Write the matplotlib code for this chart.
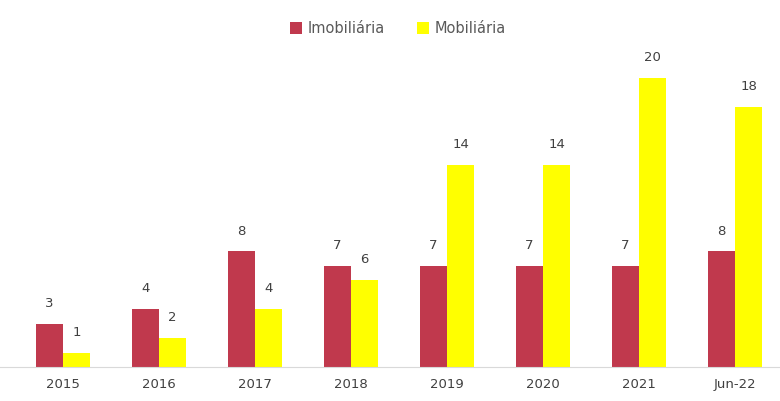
import numpy as np
import matplotlib.pyplot as plt

# data
categories = ["2015", "2016", "2017", "2018", "2019", "2020", "2021", "Jun-22"]
imobiliaria = [3, 4, 8, 7, 7, 7, 7, 8]
mobiliaria = [1, 2, 4, 6, 14, 14, 20, 18]

red = "#C0394D"
yellow = "#FFFF00"

fig = plt.figure(figsize=(7.8, 4.01), dpi=100)
ax = fig.add_axes([0, 34 / 401, 1, (367 - 40) / 401])

x = np.arange(len(categories))
w = 0.285
b1 = ax.bar(x - w / 2, imobiliaria, w, color=red, label="Imobiliária")
b2 = ax.bar(x + w / 2, mobiliaria, w, color=yellow, label="Mobiliária")

ax.bar_label(b1, padding=10, fontsize=9.5, color="#404040")
ax.bar_label(b2, padding=10, fontsize=9.5, color="#404040")

ax.set_xlim(-63 / 96, (780 - 63) / 96)
ax.set_ylim(0, (367 - 40) / 14.45)

ax.set_xticks(x)
ax.set_xticklabels(categories, fontsize=9.5, color="#404040")
ax.tick_params(axis="x", length=0, pad=8)
ax.set_yticks([])
for s in ["top", "right", "left"]:
    ax.spines[s].set_visible(False)
ax.spines["bottom"].set_color("#D9D9D9")

fig.legend(loc="upper center", bbox_to_anchor=(0.51, 0.98), ncol=2,
           frameon=False, fontsize=10.5, handlelength=0.8, handleheight=0.8,
           columnspacing=2.2, handletextpad=0.4, labelcolor="#595959")

fig.savefig("out.png", dpi=100)
